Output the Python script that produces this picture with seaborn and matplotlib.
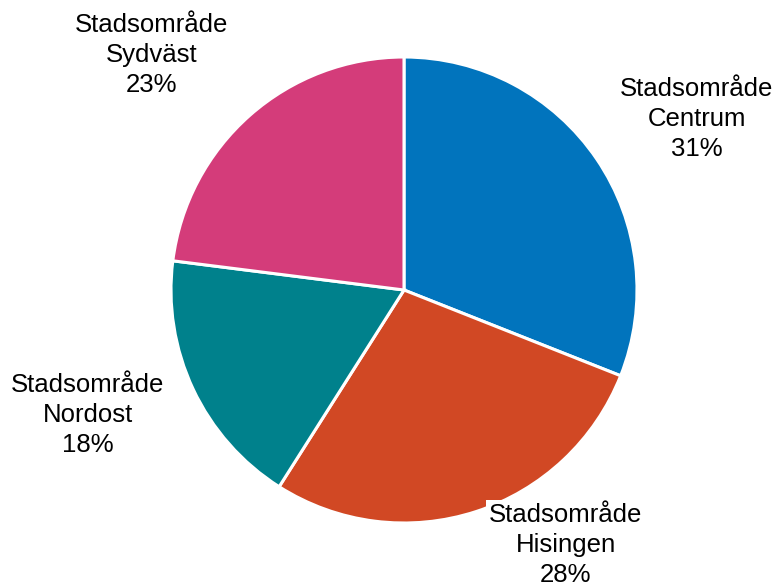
import matplotlib
matplotlib.use("Agg")
import matplotlib.pyplot as plt
import seaborn as sns

categories = ["Stadsområde\nCentrum", "Stadsområde\nHisingen", "Stadsområde\nNordost", "Stadsområde\nSydväst"]
values = [31, 28, 18, 23]
colors = ["#0174BD", "#D14824", "#00818C", "#D43C7A"]

sns.set_theme(style="white")
plt.rcParams['font.family'] = ['Liberation Sans', 'DejaVu Sans']

W, H = 779, 586
fig = plt.figure(figsize=(W / 100, H / 100), dpi=100)
ax = fig.add_axes([0, 0, 1, 1])

cx, cy, r = 404, H - 290, 233
ax.pie(values, colors=colors, startangle=90, counterclock=False,
       center=(cx, cy), radius=r, frame=True,
       wedgeprops=dict(edgecolor="white", linewidth=2.2))
ax.set_xlim(0, W)
ax.set_ylim(0, H)
ax.set_aspect("equal")
ax.axis("off")

label_pos = [(697, 119), (566, 545), (88, 415), (152, 55)]
for (x, y), cat, v in zip(label_pos, categories, values):
    bbox = dict(facecolor="white", edgecolor="none", pad=2) if v == 28 else None
    ax.text(x, H - y, f"{cat}\n{v}%", ha="center", va="center",
            fontsize=18.5, linespacing=1.33, color="black", bbox=bbox)

fig.savefig("out.png", dpi=100)
